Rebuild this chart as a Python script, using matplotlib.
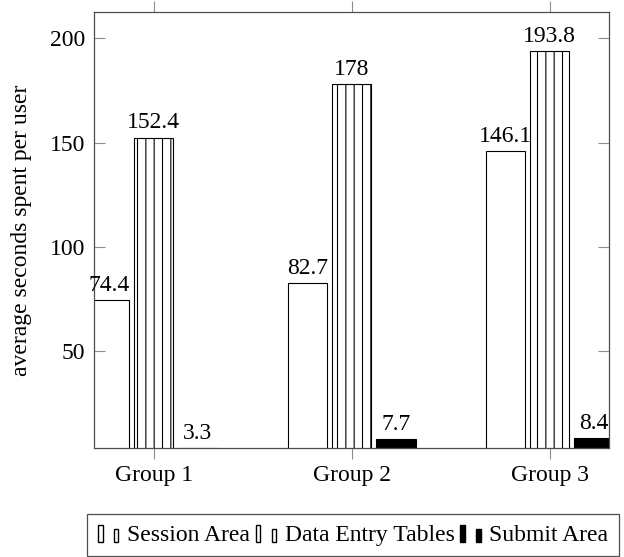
import matplotlib
matplotlib.use("Agg")
import matplotlib.pyplot as plt
import numpy as np
from matplotlib.legend_handler import HandlerBase
from matplotlib.patches import Rectangle

groups = ["Group 1", "Group 2", "Group 3"]
series = ["Session Area", "Data Entry Tables", "Submit Area"]
session_area = [74.4, 82.7, 146.1]
data_entry = [152.4, 178.0, 193.8]
submit_area = [3.3, 7.7, 8.4]


class TwoBarHandler(HandlerBase):
    """pgfplots-style ybar legend image: two little bars."""

    def create_artists(self, legend, orig_handle, xdescent, ydescent,
                       width, height, fontsize, trans):
        fc = orig_handle.get_facecolor()
        hatch = orig_handle.get_hatch()
        bw = width * 0.21
        r1 = Rectangle((-xdescent + width * 0.02, -ydescent - 1), bw, height * 1.05,
                       facecolor=fc, edgecolor="black", hatch=hatch,
                       linewidth=1.0, transform=trans)
        r2 = Rectangle((-xdescent + width * 0.75, -ydescent - 1), bw, height * 0.8,
                       facecolor=fc, edgecolor="black", hatch=hatch,
                       linewidth=1.0, transform=trans)
        return [r1, r2]


plt.rcParams["font.family"] = ["Liberation Serif", "DejaVu Serif"]
plt.rcParams["font.size"] = 17
plt.rcParams["hatch.linewidth"] = 0.8

fig = plt.figure(figsize=(6.24, 5.57), dpi=100)
ax = fig.add_axes([0.1511, 0.1951, 0.976 - 0.1511, 0.979 - 0.1951])

x = np.arange(1, len(groups) + 1)
width = 0.198
shift = 0.2235

styles = [
    dict(facecolor="white", edgecolor="black", hatch=None),
    dict(facecolor="white", edgecolor="black", hatch="||"),
    dict(facecolor="black", edgecolor="black", hatch=None),
]
handles = []
for i, (vals, st) in enumerate(zip([session_area, data_entry, submit_area], styles)):
    bars = ax.bar(x + (i - 1) * shift, vals, width, linewidth=0.8, label=series[i], **st)
    handles.append(bars[0])
    for xi, v in zip(x + (i - 1) * shift, vals):
        ax.annotate(f"{v:g}", (xi, v), xytext=(0, 3), textcoords="offset points",
                    ha="center", va="bottom")

ymin = min(submit_area)
ymax = max(data_entry)
ax.set_ylim(ymin, ymax + 0.1 * (ymax - ymin))
ax.set_xlim(0.7, 3.3)

ax.set_xticks(x)
ax.set_xticklabels(groups)
ax.set_yticks([50, 100, 150, 200])
ax.set_ylabel("average seconds spent per user", labelpad=13)

ax.tick_params(axis="x", direction="out", length=8, width=0.8, color="0.55",
               top=True, pad=4)
ax.tick_params(axis="y", direction="in", length=8, width=0.8, color="0.55",
               right=True, pad=6.5)
for sp in ax.spines.values():
    sp.set_color("0.3")
    sp.set_linewidth(0.9)

leg = fig.legend(handles, series, loc="upper left",
                 bbox_to_anchor=(87 / 624, 1 - 514 / 557), ncol=3,
                 handler_map={h: TwoBarHandler() for h in handles},
                 handlelength=0.92, handleheight=0.65, handletextpad=0.33,
                 columnspacing=0.22, borderpad=0.45, borderaxespad=0,
                 fancybox=False, framealpha=1, edgecolor="0.3")
leg.get_frame().set_linewidth(0.9)

fig.savefig("out.png", dpi=100)
